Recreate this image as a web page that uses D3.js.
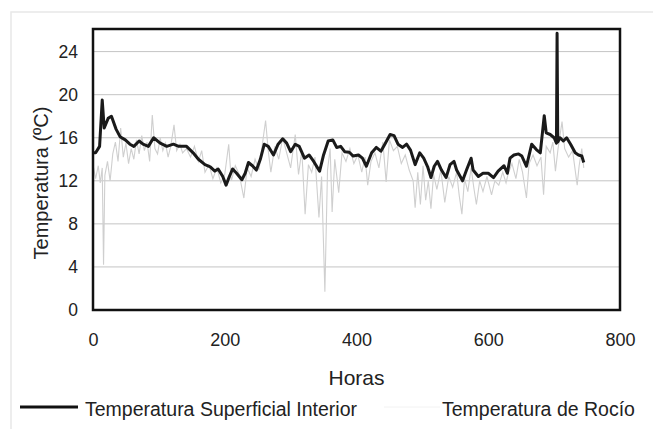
<!DOCTYPE html>
<html>
<head>
<meta charset="utf-8">
<script src="https://cdn.jsdelivr.net/npm/d3@7"></script>
<style>
  body { margin: 0; background: #fff; }
  svg { display: block; font-family: "Liberation Sans", Arial, sans-serif; }
</style>
</head>
<body>
<svg id="chart" width="653" height="429"></svg>
<script>
// y axis ticks and x axis ticks
var yTicks = [0, 4, 8, 12, 16, 20, 24]
var xTicks = [0, 200, 400, 600, 800]

// Temperatura Superficial Interior: [hora, temperatura]
var superficial = [
    [0, 14.6], [4, 14.6], [10, 15.2], [14, 19.5], [17, 16.9], [23, 17.8], [28, 18.0],
    [35, 16.8], [41, 16.1], [49, 15.8], [56, 15.4], [62, 15.2], [70, 15.7], [76, 15.4],
    [84, 15.2], [92, 16.0], [102, 15.5], [112, 15.2], [122, 15.4], [130, 15.2], [142, 15.2],
    [152, 14.6], [160, 14.0], [170, 13.5], [178, 13.3], [185, 12.9], [190, 13.1], [197, 12.4],
    [202, 11.6], [207, 12.4], [212, 13.1], [218, 12.7], [226, 12.1], [231, 12.7], [236, 13.7],
    [242, 13.4], [248, 13.0], [254, 14.0], [260, 15.4], [266, 15.2], [274, 14.4], [281, 15.4],
    [288, 15.9], [294, 15.5], [300, 14.7], [307, 15.4], [313, 15.2], [321, 14.1], [328, 14.4],
    [335, 13.8], [344, 12.9], [350, 14.4], [357, 15.7], [364, 15.8], [370, 15.1], [376, 15.2],
    [382, 14.7], [389, 14.65], [395, 14.3], [403, 14.4], [409, 14.1], [415, 13.35], [423, 14.6],
    [430, 15.1], [437, 14.75], [443, 15.4], [451, 16.3], [457, 16.2], [463, 15.4], [470, 15.1],
    [476, 15.4], [482, 14.85], [489, 13.5], [496, 14.6], [502, 14.1], [508, 13.3], [513, 12.3],
    [518, 13.35], [523, 13.8], [529, 13.0], [536, 12.3], [542, 13.5], [548, 13.8], [552, 13.0],
    [561, 12.0], [567, 13.0], [574, 14.1], [577, 13.0], [585, 12.4], [592, 12.7], [600, 12.7],
    [608, 12.3], [615, 12.9], [624, 13.4], [629, 12.7], [633, 14.1], [639, 14.4], [646, 14.5],
    [651, 14.3], [658, 13.35], [666, 15.4], [673, 14.9], [679, 14.6], [685, 18.05], [688, 16.45],
    [694, 16.3], [700, 16.0], [703.5, 15.5], [704.5, 25.7], [705.5, 15.6], [709, 16.0], [714, 15.7],
    [719, 16.0], [725, 15.4], [732, 14.6], [737, 14.4], [742, 14.3], [745, 13.7]
]

// Temperatura de Rocío: [hora, temperatura]
var rocio = [
    [0, 13.5], [4, 12.2], [8, 13.4], [11, 11.8], [14, 13.2], [16, 4.2], [18, 12.5], [22, 13.8],
    [26, 12.0], [30, 14.5], [34, 15.6], [38, 13.8], [42, 16.9], [46, 14.2], [50, 15.5], [54, 13.6],
    [58, 15.0], [62, 14.0], [66, 15.8], [70, 14.5], [74, 16.2], [78, 14.8], [82, 15.6], [86, 13.8],
    [90, 18.1], [94, 15.0], [98, 14.5], [102, 16.0], [106, 14.8], [110, 15.5], [114, 14.2], [118, 15.2],
    [123, 17.2], [127, 14.8], [132, 15.4], [136, 14.6], [142, 15.0], [148, 14.2], [154, 15.2], [160, 13.8],
    [165, 14.8], [170, 12.8], [176, 13.5], [182, 12.2], [188, 13.2], [194, 11.8], [200, 12.6], [206, 15.4],
    [210, 12.0], [216, 13.4], [222, 12.6], [229, 10.4], [234, 13.2], [240, 12.4], [246, 14.0], [252, 13.0],
    [258, 15.8], [262, 17.6], [266, 14.8], [270, 12.8], [276, 15.2], [282, 14.0], [288, 16.0], [294, 14.6],
    [300, 13.2], [307, 16.3], [312, 12.6], [317, 14.8], [322, 8.9], [327, 13.5], [332, 12.8], [337, 14.2],
    [343, 8.6], [347, 12.4], [352, 1.7], [356, 13.0], [360, 15.0], [363, 9.1], [367, 14.0], [373, 10.9],
    [378, 14.6], [384, 13.8], [390, 15.0], [396, 13.6], [402, 14.4], [408, 12.8], [413, 14.2], [417, 11.6],
    [422, 13.8], [428, 14.6], [434, 13.2], [440, 15.6], [445, 11.9], [450, 15.8], [456, 14.8], [462, 15.2],
    [468, 13.6], [474, 14.4], [480, 13.0], [486, 12.0], [489, 9.5], [493, 12.8], [497, 9.8], [501, 13.4],
    [505, 10.2], [509, 12.0], [513, 9.4], [517, 12.6], [522, 11.2], [528, 13.0], [534, 10.0], [540, 12.4],
    [546, 11.4], [552, 12.8], [556, 10.6], [560, 8.9], [564, 12.2], [569, 11.0], [574, 13.2], [578, 11.4],
    [582, 9.8], [587, 12.0], [592, 11.0], [598, 12.4], [605, 10.7], [610, 12.0], [616, 11.6], [622, 12.8],
    [627, 11.8], [630, 12.6], [636, 13.6], [642, 12.2], [647, 14.0], [652, 12.8], [658, 10.4], [662, 13.6],
    [668, 14.4], [674, 13.4], [680, 14.2], [684, 10.7], [688, 15.2], [694, 14.6], [698, 15.6], [702, 12.9],
    [706, 15.0], [712, 17.5], [716, 15.0], [722, 14.2], [728, 14.8], [735, 11.6], [738, 13.4], [742, 15.0],
    [745, 13.2]
]

var margin = {left: 93, top: 29, right: 33, bottom: 119}
var width = 653 - margin.left - margin.right
var height = 429 - margin.top - margin.bottom

var svg = d3.select("#chart")

// faint outer frame of the figure
svg.append("rect")
    .attr("x", 11).attr("y", 12)
    .attr("width", 700).attr("height", 500)
    .attr("fill", "none")
    .attr("stroke", "#e8e8e8")
    .attr("stroke-width", 1.5)

var g = svg.append("g")
    .attr("transform", "translate(" + margin.left + "," + margin.top + ")")

var xScale = d3.scaleLinear().domain([0, 800]).range([0, width])
var yScale = d3.scaleLinear().domain([0, 26.1]).range([height, 0])

// gridlines
g.selectAll(".grid")
    .data(yTicks.filter(function (d) { return d > 0 }))
    .enter().append("line")
    .attr("x1", 0).attr("x2", width)
    .attr("y1", function (d) { return yScale(d) })
    .attr("y2", function (d) { return yScale(d) })
    .attr("stroke", "#c4c4c4")
    .attr("stroke-width", 1)

var line = d3.line()
    .x(function (d) { return xScale(d[0]) })
    .y(function (d) { return yScale(d[1]) })

g.append("path")
    .datum(rocio)
    .attr("fill", "none")
    .attr("stroke", "#cfcfcf")
    .attr("stroke-width", 1.1)
    .attr("d", line)

g.append("path")
    .datum(superficial)
    .attr("fill", "none")
    .attr("stroke", "#1a1a1a")
    .attr("stroke-width", 3)
    .attr("stroke-linejoin", "round")
    .attr("d", line)

// plot frame
g.append("rect")
    .attr("width", width).attr("height", height)
    .attr("fill", "none")
    .attr("stroke", "#111")
    .attr("stroke-width", 2.5)

// axes (labels only, Excel style)
var yAxis = g.append("g")
    .call(d3.axisLeft(yScale).tickValues(yTicks).tickSize(0).tickPadding(15))
yAxis.select(".domain").remove()
yAxis.selectAll("text")
    .attr("font-size", 17.5).attr("fill", "#222")
    .attr("font-family", "Liberation Sans, Arial, sans-serif")

var xAxis = g.append("g")
    .attr("transform", "translate(0," + height + ")")
    .call(d3.axisBottom(xScale).tickValues(xTicks).tickSize(0).tickPadding(23))
xAxis.select(".domain").remove()
xAxis.selectAll("text")
    .attr("font-size", 18).attr("fill", "#222")
    .attr("font-family", "Liberation Sans, Arial, sans-serif")

// axis titles
svg.append("text")
    .attr("x", margin.left + width / 2)
    .attr("y", 385)
    .attr("text-anchor", "middle")
    .attr("font-size", 21)
    .attr("fill", "#222")
    .text("Horas")

svg.append("text")
    .attr("transform", "translate(48,183) rotate(-90)")
    .attr("text-anchor", "middle")
    .attr("font-size", 20)
    .attr("fill", "#222")
    .text("Temperatura (ºC)")

// legend
var legend = svg.append("g")
legend.append("line")
    .attr("x1", 20).attr("x2", 78).attr("y1", 407).attr("y2", 407)
    .attr("stroke", "#111").attr("stroke-width", 3)
legend.append("text")
    .attr("x", 85).attr("y", 416)
    .attr("font-size", 19.5).attr("fill", "#222")
    .text("Temperatura Superficial Interior")
legend.append("line")
    .attr("x1", 384).attr("x2", 440).attr("y1", 407).attr("y2", 407)
    .attr("stroke", "#f2f2f2").attr("stroke-width", 1)
legend.append("text")
    .attr("x", 442).attr("y", 416)
    .attr("font-size", 19.5).attr("fill", "#222")
    .text("Temperatura de Rocío")
</script>
</body>
</html>
